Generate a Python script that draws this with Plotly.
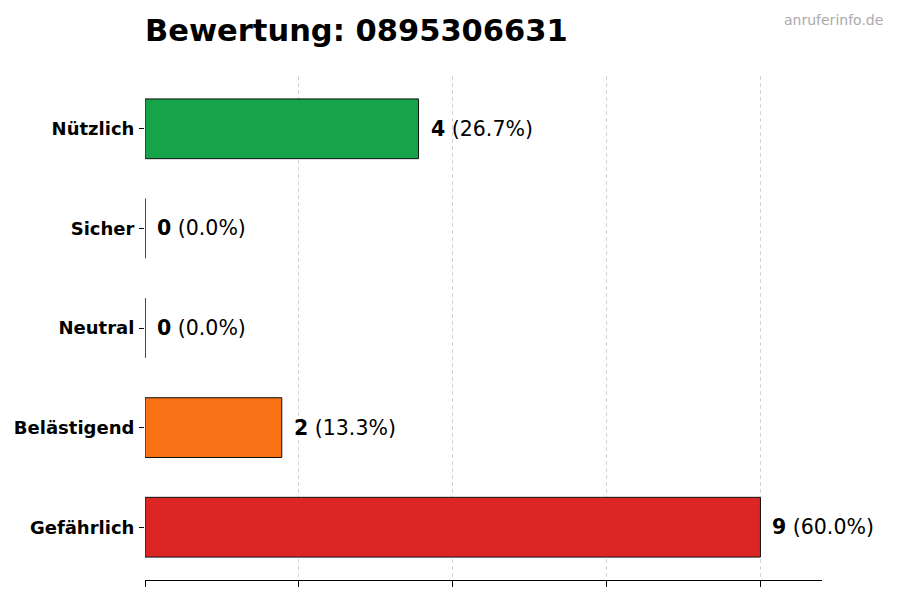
import plotly.graph_objects as go

# Bewertungen (von unten nach oben)
categories = ["Gefährlich", "Belästigend", "Neutral", "Sicher", "Nützlich"]
counts = [9, 2, 0, 0, 4]
colors = ["#dc2626", "#f97316", "#9ca3af", "#3b82f6", "#16a34a"]
number = "0895306631"

total = sum(counts)
xmax = max(counts) * 1.1
grid_ticks = [max(counts) * i / 4 for i in range(5)]

fig = go.Figure()
fig.add_trace(go.Bar(
    x=counts,
    y=categories,
    orientation="h",
    width=0.6,
    marker=dict(color=colors, line=dict(color="#111111", width=1)),
    hoverinfo="skip",
))

for cat, val in zip(categories, counts):
    pct = val / total * 100 if total else 0
    fig.add_annotation(
        x=val, y=cat, xanchor="left", yanchor="middle", xshift=10,
        text=f"<b>{val}</b> ({pct:.1f}%)", showarrow=False,
        font=dict(family="DejaVu Sans", size=20.5, color="black"),
    )

fig.add_annotation(
    x=1, y=1, xref="paper", yref="paper", xanchor="right", yanchor="top",
    xshift=63, yshift=66,
    text="anruferinfo.de", showarrow=False,
    font=dict(family="DejaVu Sans", size=14, color="#aaaaaa"),
)

fig.update_layout(
    width=900, height=600,
    margin=dict(l=137, r=86, t=68, b=28),
    plot_bgcolor="white", paper_bgcolor="white",
    showlegend=False,
    title=dict(
        text=f"<b>Bewertung: {number}</b>",
        x=137 / 900, xanchor="left", y=1 - 22 / 600, yanchor="middle",
        font=dict(family="DejaVu Sans", size=30.5, color="black"),
    ),
    font=dict(family="DejaVu Sans"),
    xaxis=dict(
        range=[0, xmax], tickvals=grid_ticks, showticklabels=False,
        showgrid=True, gridcolor="#d4d4d4", griddash="4px,3px", gridwidth=1,
        showline=True, linecolor="black", linewidth=1,
        ticks="outside", ticklen=6, tickcolor="black",
        zeroline=False, automargin=False,
    ),
    yaxis=dict(
        range=[-0.53, 4.53], showgrid=False, showline=False, zeroline=False,
        ticks="outside", ticklen=5, tickcolor="black",
        tickfont=dict(family="DejaVu Sans", size=18, color="black"),
        ticklabelstandoff=1, automargin=False,
    ),
)

fig.update_yaxes(tickvals=categories, ticktext=[f"<b>{c}</b>" for c in categories])

fig.write_html("out.html")
